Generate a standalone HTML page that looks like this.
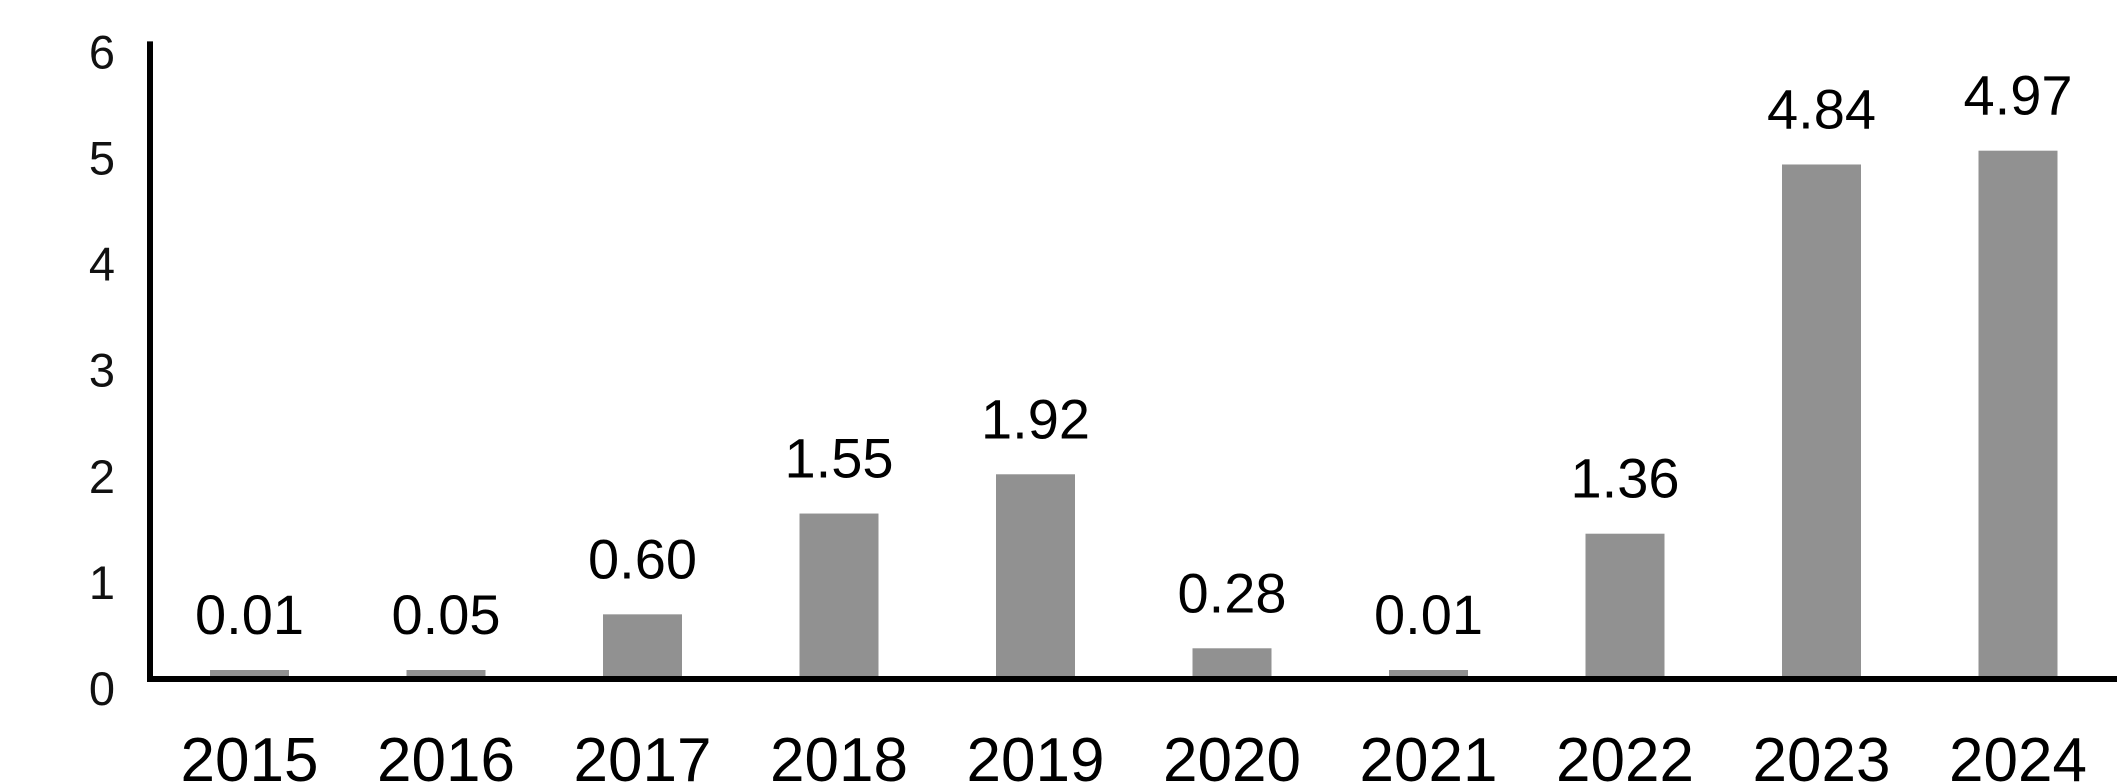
<!DOCTYPE html>
<html><head><meta charset="utf-8"><style>
html,body{margin:0;padding:0;background:#fff;}
svg{display:block;font-family:"Liberation Sans",sans-serif;}
</style></head><body>
<svg id="chart" width="2125" height="783" viewBox="0 0 2125 783"></svg>
<script>
const categories = ["2015","2016","2017","2018","2019","2020","2021","2022","2023","2024"];
const values = [0.01,0.05,0.60,1.55,1.92,0.28,0.01,1.36,4.84,4.97];
const valueLabels = ["0.01","0.05","0.60","1.55","1.92","0.28","0.01","1.36","4.84","4.97"];
const yTicks = [0,1,2,3,4,5,6];

const svg = document.getElementById('chart');
const NS = 'http://www.w3.org/2000/svg';
const y0 = 678, unit = 106.1, yMax = 6;
const yScale = v => y0 - v * unit;
const firstCenter = 249.5, step = 196.5, barW = 79;
const xScale = i => firstCenter + i * step;
function mk(tag, attrs, text){
  const e = document.createElementNS(NS, tag);
  for (const k in attrs) e.setAttribute(k, attrs[k]);
  if (text !== undefined) e.textContent = text;
  svg.appendChild(e);
  return e;
}
yTicks.forEach(t => {
  const e = mk('text', {x:102, y:yScale(t)+27, 'text-anchor':'middle', 'font-size':47, fill:'#111'}, String(t));
  
  
});
categories.forEach((c, i) => {
  const v = values[i];
  const top = Math.min(yScale(v), y0 - 8);
  const bar = mk('rect', {x:xScale(i)-barW/2, y:top, width:barW, height:y0-top, fill:'#919191'});
  
  
  const lbl = mk('text', {x:xScale(i), y:top-36, 'text-anchor':'middle', 'font-size':56, fill:'#000'}, valueLabels[i]);
  
  
  const xl = mk('text', {x:xScale(i), y:781, 'text-anchor':'middle', 'font-size':62, fill:'#000'}, c);
  
  
});
const ya = mk('line', {x1:150, y1:yScale(yMax), x2:150, y2:y0+3, stroke:'#000', 'stroke-width':6});


const xa = mk('line', {x1:147, y1:y0+1, x2:2117, y2:y0+1, stroke:'#000', 'stroke-width':6});


</script>
</body></html>
